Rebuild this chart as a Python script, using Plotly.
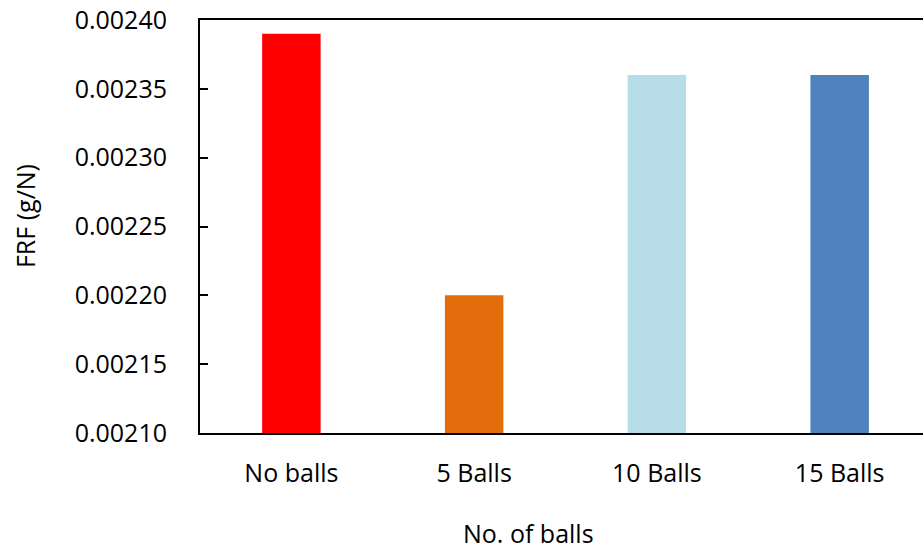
import plotly.graph_objects as go

# FRF response for each ball configuration
categories = ["No balls", "5 Balls", "10 Balls", "15 Balls"]
frf_values = [0.00239, 0.00220, 0.00236, 0.00236]
bar_colors = ["#FF0000", "#E46C0A", "#B7DEE8", "#4F81BD"]
y_ticks = [0.00210, 0.00215, 0.00220, 0.00225, 0.00230, 0.00235, 0.00240]

font_family = "Open Sans, Lato, sans-serif"

fig = go.Figure(
    go.Bar(
        x=categories,
        y=frf_values,
        marker=dict(color=bar_colors, line=dict(width=0)),
        width=0.32,
    )
)

fig.update_layout(
    width=923,
    height=552,
    margin=dict(l=200, r=0, t=20, b=119),
    paper_bgcolor="white",
    plot_bgcolor="white",
    showlegend=False,
    font=dict(family=font_family, size=25, color="black"),
    annotations=[
        # x-axis title
        dict(
            text="No. of balls",
            xref="paper", yref="paper",
            x=0.4537, y=-0.242,
            xanchor="center", yanchor="middle",
            borderpad=0,
            showarrow=False,
            font=dict(size=25),
        ),
        # y-axis title
        dict(
            text="FRF (g/N)",
            xref="paper", yref="paper",
            x=-0.242, y=0.5254,
            xanchor="center", yanchor="middle",
            textangle=-90,
            showarrow=False,
            font=dict(size=25),
        ),
    ],
)

fig.update_xaxes(
    range=[-0.5, 3.456],
    showline=True,
    linecolor="black",
    linewidth=2,
    mirror=True,
    showgrid=False,
    ticks="",
    ticklabelstandoff=17,
    tickfont=dict(size=25),
)

fig.update_yaxes(
    range=[0.00210, 0.00240],
    tickvals=y_ticks,
    tickformat=".5f",
    showline=True,
    linecolor="black",
    linewidth=2,
    showgrid=False,
    zeroline=False,
    ticks="inside",
    ticklen=8,
    tickwidth=2,
    tickcolor="black",
    ticklabelstandoff=26,
    tickfont=dict(size=25),
)

fig.write_html("out.html")
